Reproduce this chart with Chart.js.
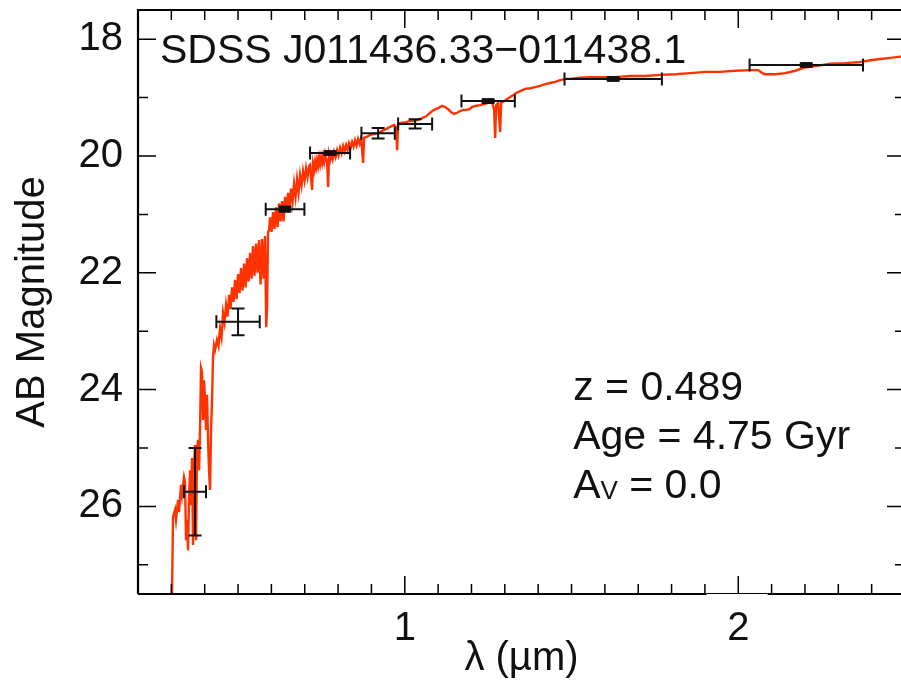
<!DOCTYPE html>
<html>
<head>
<meta charset="utf-8">
<script src="https://cdn.jsdelivr.net/npm/chart.js@4.4.1/dist/chart.umd.min.js"></script>
<style>
  html, body { margin: 0; padding: 0; background: #fff; overflow: hidden; }
  #wrap { width: 906px; height: 681px; }
</style>
</head>
<body>
<div id="wrap"><canvas id="c" width="906" height="681"></canvas></div>
<script>
// ---- Model spectrum (wavelength in micron, AB magnitude) ----
const specWave = [0.302,0.305,0.311,0.314,0.320,0.323,0.329,0.332,0.338,0.341,
0.344,0.347,0.350,0.353,0.356,0.359,0.362,0.365,0.368,0.371,
0.374,0.377,0.380,0.383,0.386,0.389,0.392,0.395,0.398,0.401,
0.404,0.407,0.410,0.413,0.416,0.419,0.422,0.425,0.428,0.431,
0.437,0.4415,0.446,0.4505,0.455,0.4595,0.464,0.4685,0.473,0.4775,
0.482,0.4865,0.491,0.4955,0.500,0.5045,0.509,0.5135,0.518,0.5225,
0.527,0.5315,0.536,0.5405,0.545,0.5495,0.554,0.5585,0.563,0.5675,
0.572,0.5765,0.581,0.5845,0.587,0.590,0.593,0.596,0.6005,0.605,
0.6095,0.614,0.6185,0.623,0.6275,0.632,0.6365,0.641,0.6455,0.650,
0.6545,0.659,0.6635,0.668,0.6725,0.677,0.6815,0.686,0.6905,0.695,
0.6995,0.704,0.7085,0.713,0.716,0.719,0.722,0.725,0.728,0.731,
0.734,0.737,0.740,0.743,0.746,0.749,0.752,0.755,0.758,0.761,
0.764,0.767,0.770,0.773,0.776,0.779,0.7835,0.788,0.7925,0.797,
0.8015,0.806,0.8105,0.815,0.8195,0.824,0.8285,0.833,0.8375,0.842,
0.8465,0.851,0.8555,0.860,0.8645,0.869,0.872,0.875,0.878,
0.887,0.896,0.908,0.920,0.932,0.944,0.956,0.968,0.974,0.977,
0.980,0.992,1.004,1.016,1.028,1.040,1.052,1.064,1.076,1.088,
1.100,1.112,1.121,1.130,1.139,1.148,1.157,1.166,1.175,1.184,
1.193,1.202,1.214,1.226,1.238,1.250,1.262,1.268,1.271,1.274,
1.280,1.286,1.289,1.298,1.310,1.322,1.334,1.346,1.361,1.376,
1.391,1.406,1.421,1.436,1.451,1.466,1.481,1.496,1.526,1.556,
1.586,1.631,1.676,1.721,1.766,1.811,1.856,1.901,1.946,1.991,
2.036,2.060,2.072,2.081,2.111,2.141,2.171,2.195,2.231,2.276,
2.321,2.366,2.396,2.426,2.456,2.500];
const specMag = [27.5,26.18,26.06,26.23,25.89,26.10,25.63,25.80,25.50,25.58,
26.58,26.23,26.75,25.89,25.38,25.98,25.17,26.66,25.38,24.95,
26.58,25.03,24.86,25.38,24.69,23.63,23.70,24.52,23.84,24.18,
24.69,24.09,24.86,25.38,25.72,24.69,24.18,23.44,23.24,23.32,
23.15,23.25,22.95,23.10,22.69,22.85,22.55,22.75,22.38,22.62,
22.25,22.50,22.12,22.45,22.02,22.35,21.92,22.30,21.84,22.25,
21.75,22.15,21.66,22.10,21.54,22.05,21.50,22.00,21.44,22.20,
21.42,22.10,21.37,22.93,22.60,21.30,21.27,21.05,21.30,20.96,
21.25,20.88,21.22,20.81,21.12,20.77,21.12,20.70,20.95,20.63,
20.90,20.56,20.78,20.48,20.70,20.40,20.62,20.33,20.50,20.26,
20.42,20.21,20.36,20.17,20.15,20.38,20.58,20.14,20.24,20.10,
20.20,20.07,20.17,20.03,20.14,20.02,20.12,20.00,20.10,19.98,
20.08,20.07,20.53,19.98,20.06,19.97,20.06,19.93,20.02,19.90,
19.99,19.86,19.95,19.83,19.92,19.81,19.90,19.78,19.86,19.76,
19.84,19.73,19.82,19.71,19.79,19.69,19.90,20.12,19.69,
19.67,19.64,19.62,19.61,19.57,19.54,19.50,19.47,19.52,19.90,
19.45,19.43,19.42,19.40,19.40,19.38,19.35,19.32,19.26,19.21,
19.18,19.14,19.16,19.20,19.25,19.28,19.26,19.23,19.21,19.21,
19.20,19.16,19.14,19.13,19.11,19.09,19.08,19.21,19.69,19.13,
19.09,19.59,19.09,19.06,19.01,18.97,18.92,18.89,18.85,18.84,
18.82,18.80,18.77,18.75,18.73,18.70,18.68,18.68,18.66,18.65,
18.65,18.65,18.63,18.63,18.61,18.60,18.58,18.56,18.56,18.54,
18.53,18.53,18.58,18.60,18.60,18.58,18.54,18.49,18.46,18.42,
18.41,18.39,18.36,18.34,18.32,18.29];

// ---- Photometry (band centre, half band width, magnitude, error) ----
const photWave    = [0.371, 0.500, 0.641, 0.776, 0.920, 1.031, 1.250, 1.625, 2.204];
const photWaveErr = [0.033, 0.065, 0.058, 0.060, 0.050, 0.051, 0.080, 0.146, 0.170];
const photMag     = [25.75, 22.84, 20.91, 19.95, 19.61, 19.45, 19.06, 18.68, 18.44];
const photMagErr  = [0.75, 0.23, 0.04, 0.03, 0.09, 0.08, 0.03, 0.03, 0.03];

// ---- Axes ----
const xRange = [0.2, 2.5];
const yRange = [17.5, 27.5];
const xMajorTicks = [1, 2];
const xTickLabels = ['1', '2'];
const xMinorTicks = [0.3,0.4,0.5,0.6,0.7,0.8,0.9,1.1,1.2,1.3,1.4,1.5,1.6,1.7,1.8,1.9,2.1,2.2,2.3,2.4];
const yMajorTicks = [18, 20, 22, 24, 26];
const yTickLabels = ['18', '20', '22', '24', '26'];
const yMinorTicks = [19, 21, 23, 25, 27];

// ---- Annotation texts ----
const objectName = 'SDSS J011436.33\u2212011438.1';
const fitLines = ['z = 0.489', 'Age = 4.75 Gyr'];
const avLabel = ['A', 'V', ' = 0.0'];

const FONT = '"Liberation Sans", Arial, Helvetica, sans-serif';

const framePlugin = {
  id: 'frame',
  afterDatasetsDraw(chart) {
    const { ctx, chartArea: ca, scales: { x, y } } = chart;
    ctx.save();
    // error bars
    ctx.strokeStyle = '#111';
    ctx.fillStyle = '#111';
    ctx.lineWidth = 2;
    photWave.forEach((w, i) => {
      const px = x.getPixelForValue(w);
      const py = y.getPixelForValue(photMag[i]);
      const x0 = x.getPixelForValue(w - photWaveErr[i]);
      const x1 = x.getPixelForValue(w + photWaveErr[i]);
      const y0 = y.getPixelForValue(photMag[i] - photMagErr[i]);
      const y1 = y.getPixelForValue(photMag[i] + photMagErr[i]);
      const cap = 6.5;
      ctx.beginPath();
      ctx.moveTo(x0, py); ctx.lineTo(x1, py);
      ctx.moveTo(x0, py - cap); ctx.lineTo(x0, py + cap);
      ctx.moveTo(x1, py - cap); ctx.lineTo(x1, py + cap);
      ctx.moveTo(px, y0); ctx.lineTo(px, y1);
      ctx.moveTo(px - cap, y0); ctx.lineTo(px + cap, y0);
      ctx.moveTo(px - cap, y1); ctx.lineTo(px + cap, y1);
      ctx.stroke();
      const h = Math.abs(y1 - y0);
      if (h < 8) ctx.fillRect(px - 5.5, Math.min(y0, y1) - 1, 11, h + 2);
    });

    // frame
    ctx.strokeStyle = '#000';
    ctx.lineWidth = 2.2;
    ctx.beginPath();
    ctx.moveTo(ca.left, ca.bottom); ctx.lineTo(ca.left, ca.top);
    ctx.lineTo(ca.right, ca.top); ctx.lineTo(ca.right, ca.bottom);
    ctx.moveTo(ca.right, ca.bottom); ctx.lineTo(x.getPixelForValue(2.088), ca.bottom);
    ctx.moveTo(x.getPixelForValue(1.905), ca.bottom); ctx.lineTo(ca.left, ca.bottom);
    ctx.stroke();
    ctx.lineWidth = 1;
    ctx.beginPath();
    ctx.moveTo(x.getPixelForValue(1.905), ca.bottom - 0.5);
    ctx.lineTo(x.getPixelForValue(2.088), ca.bottom - 0.5);
    ctx.stroke();

    // inward ticks
    ctx.lineWidth = 1.5;
    ctx.beginPath();
    const major = 18, minor = 10;
    xMajorTicks.forEach(v => {
      const p = x.getPixelForValue(v);
      ctx.moveTo(p, ca.bottom); ctx.lineTo(p, ca.bottom - major);
      ctx.moveTo(p, ca.top); ctx.lineTo(p, ca.top + major);
    });
    xMinorTicks.forEach(v => {
      const p = x.getPixelForValue(v);
      ctx.moveTo(p, ca.bottom); ctx.lineTo(p, ca.bottom - minor);
      ctx.moveTo(p, ca.top); ctx.lineTo(p, ca.top + minor);
    });
    yMajorTicks.forEach(v => {
      const p = y.getPixelForValue(v);
      ctx.moveTo(ca.left, p); ctx.lineTo(ca.left + major, p);
      ctx.moveTo(ca.right, p); ctx.lineTo(ca.right - major, p);
    });
    yMinorTicks.forEach(v => {
      const p = y.getPixelForValue(v);
      ctx.moveTo(ca.left, p); ctx.lineTo(ca.left + minor, p);
      ctx.moveTo(ca.right, p); ctx.lineTo(ca.right - minor, p);
    });
    ctx.stroke();

    // annotations
    ctx.fillStyle = '#111';
    ctx.textBaseline = 'alphabetic';
    ctx.textAlign = 'left';
    ctx.font = '41px ' + FONT;
    ctx.fillText(objectName, ca.left + 22, ca.top + 53);
    const tx = x.getPixelForValue(1.505);
    const ty0 = y.getPixelForValue(24.18);
    const lh = 49;
    ctx.fillText(fitLines[0], tx, ty0);
    ctx.fillText(fitLines[1], tx, ty0 + lh);
    let cx = tx;
    const by = ty0 + 2 * lh;
    ctx.fillText(avLabel[0], cx, by);
    cx += ctx.measureText(avLabel[0]).width;
    ctx.font = '26px ' + FONT;
    ctx.fillText(avLabel[1], cx, by + 1);
    cx += ctx.measureText(avLabel[1]).width;
    ctx.font = '41px ' + FONT;
    ctx.fillText(avLabel[2], cx, by);
    ctx.restore();
  }
};

new Chart(document.getElementById('c'), {
  type: 'scatter',
  data: {
    datasets: [
      {
        label: 'model',
        data: specWave.map((w, i) => ({ x: w, y: specMag[i] })),
        showLine: true,
        borderColor: '#ff3300',
        borderWidth: 2.4,
        pointRadius: 0,
        tension: 0
      },
      {
        label: 'photometry',
        data: photWave.map((w, i) => ({ x: w, y: photMag[i] })),
        showLine: false,
        pointRadius: 0
      }
    ]
  },
  options: {
    responsive: false,
    animation: false,
    devicePixelRatio: 1,
    layout: { padding: { top: 10, right: 1, left: 0, bottom: 0 } },
    plugins: { legend: { display: false }, tooltip: { enabled: false } },
    scales: {
      x: {
        type: 'linear',
        min: xRange[0], max: xRange[1],
        grid: { display: false, drawTicks: false },
        border: { display: false },
        afterBuildTicks: s => { s.ticks = xMajorTicks.map(v => ({ value: v })); },
        ticks: {
          autoSkip: false, maxRotation: 0, padding: 11,
          color: '#111', font: { family: FONT, size: 40 },
          callback: (v) => { const i = xMajorTicks.indexOf(v); return i >= 0 ? xTickLabels[i] : ''; }
        },
        title: {
          display: true, text: '\u03bb (\u00b5m)', color: '#111',
          font: { family: FONT, size: 40, lineHeight: 1 },
          padding: { top: 0, bottom: 2 }
        },
        afterFit: s => { s.height = 87; s.paddingLeft = 0; s.paddingRight = 0; }
      },
      y: {
        type: 'linear',
        reverse: true,
        min: yRange[0], max: yRange[1],
        grid: { display: false, drawTicks: false },
        border: { display: false },
        afterBuildTicks: s => { s.ticks = yMajorTicks.map(v => ({ value: v })); },
        ticks: {
          autoSkip: false, padding: 15,
          color: '#111', font: { family: FONT, size: 40 },
          callback: (v) => { const i = yMajorTicks.indexOf(v); return i >= 0 ? yTickLabels[i] : ''; }
        },
        title: {
          display: true, text: 'AB Magnitude', color: '#111',
          font: { family: FONT, size: 40 },
          padding: { top: 9, bottom: 0 }
        },
        afterFit: s => { s.width = 138; s.paddingTop = 0; s.paddingBottom = 0; }
      }
    }
  },
  plugins: [framePlugin]
});
</script>
</body>
</html>
